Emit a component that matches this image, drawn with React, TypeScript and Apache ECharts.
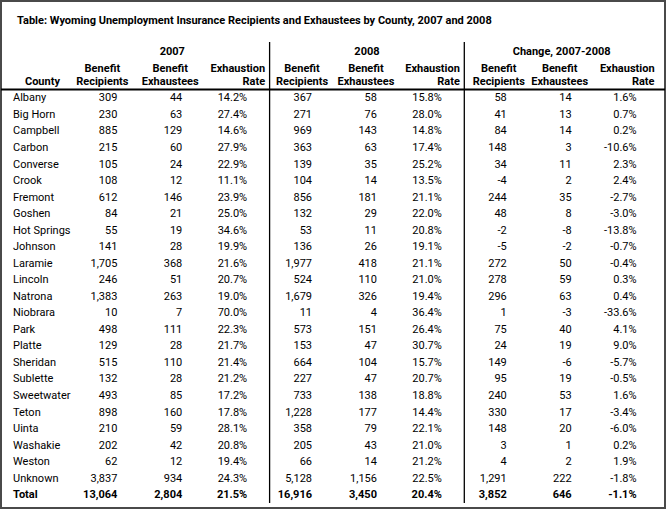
import React, { useEffect, useRef } from "react";
import * as echarts from "echarts";

const titleText =
  "Table: Wyoming Unemployment Insurance Recipients and Exhaustees by County, 2007 and 2008";

const counties = [
  "Albany", "Big Horn", "Campbell", "Carbon", "Converse", "Crook", "Fremont", "Goshen",
  "Hot Springs", "Johnson", "Laramie", "Lincoln", "Natrona", "Niobrara", "Park", "Platte",
  "Sheridan", "Sublette", "Sweetwater", "Teton", "Uinta", "Washakie", "Weston", "Unknown", "Total",
];
const recipients2007 = [309, 230, 885, 215, 105, 108, 612, 84, 55, 141, 1705, 246, 1383, 10, 498, 129, 515, 132, 493, 898, 210, 202, 62, 3837, 13064];
const exhaustees2007 = [44, 63, 129, 60, 24, 12, 146, 21, 19, 28, 368, 51, 263, 7, 111, 28, 110, 28, 85, 160, 59, 42, 12, 934, 2804];
const rate2007 = [14.2, 27.4, 14.6, 27.9, 22.9, 11.1, 23.9, 25.0, 34.6, 19.9, 21.6, 20.7, 19.0, 70.0, 22.3, 21.7, 21.4, 21.2, 17.2, 17.8, 28.1, 20.8, 19.4, 24.3, 21.5];
const recipients2008 = [367, 271, 969, 363, 139, 104, 856, 132, 53, 136, 1977, 524, 1679, 11, 573, 153, 664, 227, 733, 1228, 358, 205, 66, 5128, 16916];
const exhaustees2008 = [58, 76, 143, 63, 35, 14, 181, 29, 11, 26, 418, 110, 326, 4, 151, 47, 104, 47, 138, 177, 79, 43, 14, 1156, 3450];
const rate2008 = [15.8, 28.0, 14.8, 17.4, 25.2, 13.5, 21.1, 22.0, 20.8, 19.1, 21.1, 21.0, 19.4, 36.4, 26.4, 30.7, 15.7, 20.7, 18.8, 14.4, 22.1, 21.0, 21.2, 22.5, 20.4];
const recipientsChange = [58, 41, 84, 148, 34, -4, 244, 48, -2, -5, 272, 278, 296, 1, 75, 24, 149, 95, 240, 330, 148, 3, 4, 1291, 3852];
const exhausteesChange = [14, 13, 14, 3, 11, 2, 35, 8, -8, -2, 50, 59, 63, -3, 40, 19, -6, 19, 53, 17, 20, 1, 2, 222, 646];
const rateChange = [1.6, 0.7, 0.2, -10.6, 2.3, 2.4, -2.7, -3.0, -13.8, -0.7, -0.4, 0.3, 0.4, -33.6, 4.1, 9.0, -5.7, -0.5, 1.6, -3.4, -6.0, 0.2, 1.9, -1.8, -1.1];

const groupHeaders = ["2007", "2008", "Change, 2007-2008"];
const headerLine1 = ["", "Benefit", "Benefit", "Exhaustion", "Benefit", "Benefit", "Exhaustion", "Benefit", "Benefit", "Exhaustion"];
const headerLine2 = ["County", "Recipients", "Exhaustees", "Rate", "Recipients", "Exhaustees", "Rate", "Recipients", "Exhaustees", "Rate"];

const columnKeys = ["c0", "c1", "c2", "c3", "c4", "c5", "c6", "c7", "c8", "c9"];
const headerRowKeys = ["h0", "h1", "h2"];

const FONT = "Roboto, 'Noto Sans', sans-serif";
const FS = 11;

type Cell = {
  col: number;
  row: string;
  text: string;
  kind: "name" | "num" | "rate" | "group" | "head" | "headRate" | "headCounty";
  bold: boolean;
};

const fmtNum = (v: number) => v.toLocaleString("en-US");
const fmtPct = (v: number) => v.toFixed(1) + "%";

function buildCells(): Cell[] {
  const cells: Cell[] = [];
  groupHeaders.forEach((g, i) => {
    cells.push({ col: 2 + i * 3, row: "h0", text: g, kind: "group", bold: true });
  });
  headerLine1.forEach((t, c) => {
    if (t) cells.push({ col: c, row: "h1", text: t, kind: t === "Exhaustion" ? "headRate" : "head", bold: true });
  });
  headerLine2.forEach((t, c) => {
    cells.push({
      col: c,
      row: "h2",
      text: t,
      kind: c === 0 ? "headCounty" : t === "Rate" ? "headRate" : "head",
      bold: true,
    });
  });
  const cols: [number[], boolean][] = [
    [recipients2007, false], [exhaustees2007, false], [rate2007, true],
    [recipients2008, false], [exhaustees2008, false], [rate2008, true],
    [recipientsChange, false], [exhausteesChange, false], [rateChange, true],
  ];
  counties.forEach((name, r) => {
    const bold = name === "Total";
    cells.push({ col: 0, row: name, text: name, kind: "name", bold });
    cols.forEach(([arr, isRate], ci) => {
      cells.push({
        col: ci + 1,
        row: name,
        text: isRate ? fmtPct(arr[r]) : fmtNum(arr[r]),
        kind: isRate ? "rate" : "num",
        bold,
      });
    });
  });
  return cells;
}

// per-column horizontal offsets of centred header labels
const headOffsets = [0, 5, 8, 0, 10, 9, 0, 12, 8, 0];
// vertical nudges of the header rows
const headRowDy: Record<string, number> = { h0: 3, h1: 4, h2: 0 };

export default function App() {
  const ref = useRef<HTMLDivElement>(null);

  useEffect(() => {
    if (!ref.current) return;
    const chart = echarts.init(ref.current, undefined, { renderer: "svg" });
    const cells = buildCells();

    const option: echarts.EChartsOption = {
      animation: false,
      backgroundColor: "#ffffff",
      title: {
        text: titleText,
        left: 12,
        top: 10,
        textStyle: { fontFamily: FONT, fontSize: FS, fontWeight: "bold", color: "#000" },
      },
      grid: { left: 0, right: 18, top: 40, bottom: 7 },
      xAxis: {
        type: "category",
        data: columnKeys,
        show: false,
      },
      yAxis: {
        type: "category",
        data: [...headerRowKeys, ...counties],
        inverse: true,
        show: false,
      },
      graphic: [
        {
          type: "rect",
          shape: { x: 1, y: 1, width: 664, height: 507 },
          style: { fill: "none", stroke: "#4a4a4a", lineWidth: 2 },
          silent: true,
        },
      ],
      series: [
        {
          type: "custom",
          coordinateSystem: "cartesian2d",
          silent: true,
          data: [[0, 0]],
          renderItem: (params: any, api: any) => {
            const cs = params.coordSys;
            const band = api.size([1, 1]);
            const bw = band[0];
            const bh = band[1];
            const xDiv1 = api.coord([3, 0])[0] + bw / 2 + 10;
            const xDiv2 = api.coord([6, 0])[0] + bw / 2 + 10;
            const yHead = api.coord([0, headerRowKeys.length])[1] - bh / 2;
            const lineStyle = { stroke: "#000", lineWidth: 1.3 };
            return {
              type: "group",
              children: [
                { type: "line", shape: { x1: xDiv1, y1: cs.y + 2, x2: xDiv1, y2: cs.y + cs.height }, style: lineStyle },
                { type: "line", shape: { x1: xDiv2, y1: cs.y + 2, x2: xDiv2, y2: cs.y + cs.height }, style: lineStyle },
                { type: "line", shape: { x1: 1, y1: yHead, x2: 665, y2: yHead }, style: { stroke: "#000", lineWidth: 2 } },
              ],
            };
          },
          z: 1,
        },
        {
          type: "custom",
          coordinateSystem: "cartesian2d",
          silent: true,
          data: cells.map((c) => [c.col, c.row]),
          renderItem: (params: any, api: any) => {
            const cell = cells[params.dataIndex];
            const pt = api.coord([api.value(0), api.value(1)]);
            let x = pt[0];
            let y = pt[1] + (headRowDy[cell.row] ?? 0);
            let align: "left" | "center" | "right" = "right";
            switch (cell.kind) {
              case "name":
                x = pt[0] - api.size([1, 1])[0] / 2 + 13;
                align = "left";
                break;
              case "num":
              case "rate":
                x = pt[0] + 20;
                align = "right";
                break;
              case "group":
                x = pt[0] + 10;
                align = "center";
                break;
              case "head":
                x = pt[0] + headOffsets[cell.col];
                align = "center";
                break;
              case "headRate":
                x = pt[0] + 38;
                align = "right";
                break;
              case "headCounty":
                x = pt[0] + 10;
                align = "center";
                break;
            }
            return {
              type: "text",
              x,
              y,
              style: {
                text: cell.text,
                fontFamily: FONT,
                fontSize: FS,
                fontWeight: cell.bold ? "bold" : "normal",
                fill: "#000",
                align,
                verticalAlign: "middle",
              },
            };
          },
          z: 2,
        },
      ],
    };
    chart.setOption(option);
    return () => chart.dispose();
  }, []);

  return (
    <div
      ref={ref}
      style={{ position: "fixed", left: 0, top: 0, width: 667, height: 510, background: "#fff" }}
    />
  );
}
